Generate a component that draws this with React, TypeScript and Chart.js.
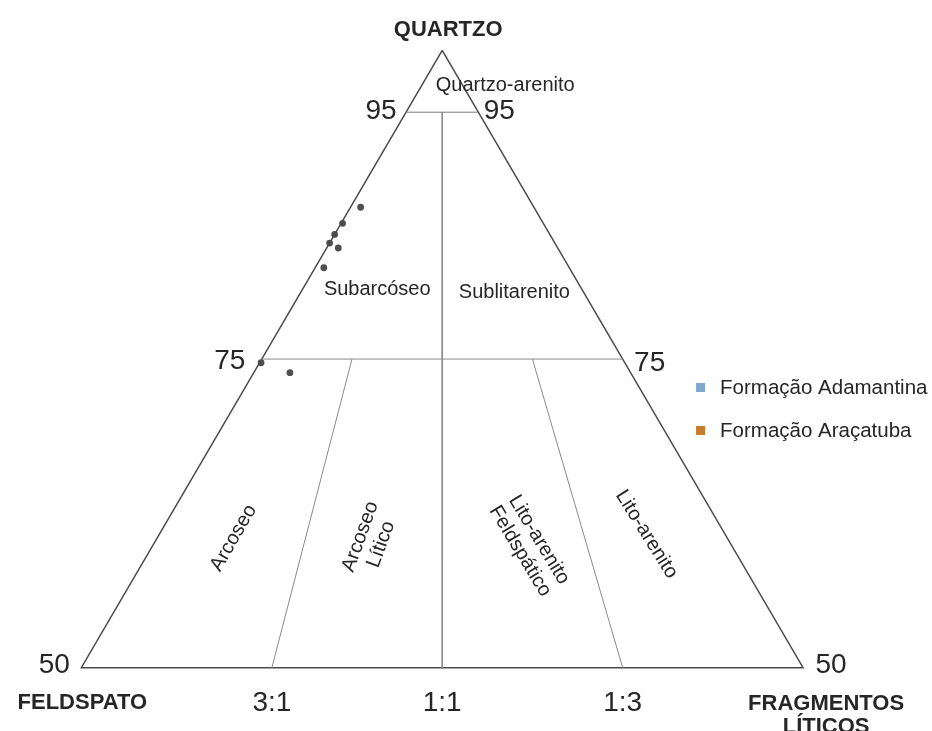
import React, { useEffect, useRef } from "react";
import { Chart, registerables } from "chart.js";

Chart.register(...registerables);

// ---- Data (ternary percentages: Quartzo, Feldspato, Fragmentos Líticos) ----
const quartzo = [87.3, 86.0, 85.1, 84.4, 84.0, 82.4, 74.7, 73.9];
const feldspato = [12.0, 13.9, 14.9, 15.6, 15.2, 17.0, 25.2, 23.6];
const liticos = [0.7, 0.1, 0.0, 0.0, 0.8, 0.6, 0.1, 2.5];

const seriesNames = ["Formação Adamantina", "Formação Araçatuba"];
const seriesColors = ["#7fa7cd", "#c97b2d"];

const vertexLabels = ["QUARTZO", "FELDSPATO", "FRAGMENTOS", "LÍTICOS"];
const quartzTicks = ["95", "75", "50"];
const ratioLabels = ["3:1", "1:1", "1:3"];
const fieldNames = [
  "Quartzo-arenito",
  "Subarcóseo",
  "Sublitarenito",
  "Arcoseo",
  "Arcoseo\nLítico",
  "Lito-arenito\nFeldspático",
  "Lito-arenito",
];

// boundary lines as ternary endpoints [Q, F, L]
const outline = [[100, 0, 0], [50, 50, 0], [50, 0, 50], [100, 0, 0]];
const line95 = [[95, 5, 0], [95, 0, 5]];
const line75 = [[75, 25, 0], [75, 0, 25]];
const ratio11 = [[95, 2.5, 2.5], [50, 25, 25]];
const ratio31 = [[75, 18.75, 6.25], [50, 36.8, 13.2]];
const ratio13 = [[75, 6.25, 18.75], [50, 12.5, 37.5]];

function tern(q: number, f: number, l: number) {
  const s = q + f + l;
  return { x: ((l - f) / s) * 100, y: (q / s) * 100 };
}

const FONT = '"Liberation Sans", Arial, Helvetica, sans-serif';

export default function App() {
  const ref = useRef<HTMLCanvasElement | null>(null);

  useEffect(() => {
    if (!ref.current) return;

    const lineDs = (pts: number[][], color: string, width: number) => ({
      data: pts.map((p) => tern(p[0], p[1], p[2])),
      showLine: true,
      borderColor: color,
      borderWidth: width,
      pointRadius: 0,
      fill: false,
      tension: 0,
    });

    const labelsPlugin = {
      id: "ternLabels",
      beforeDraw(chart: any) {
        const c = chart.ctx;
        c.save();
        c.fillStyle = "#ffffff";
        c.fillRect(0, 0, chart.width, chart.height);
        c.restore();
      },
      afterDraw(chart: any) {
        const c = chart.ctx;
        const xs = chart.scales.x;
        const ys = chart.scales.y;
        const P = (q: number, f: number, l: number) => {
          const t = tern(q, f, l);
          return [xs.getPixelForValue(t.x), ys.getPixelForValue(t.y)];
        };
        const text = (
          s: string,
          px: number,
          py: number,
          font: string,
          rot = 0,
          lh = 22
        ) => {
          c.save();
          c.translate(px, py);
          c.rotate((rot * Math.PI) / 180);
          c.font = font;
          c.fillStyle = "#262626";
          c.textAlign = "center";
          c.textBaseline = "middle";
          const lines = s.split("\n");
          lines.forEach((ln, i) => {
            c.fillText(ln, 0, (i - (lines.length - 1) / 2) * lh);
          });
          c.restore();
        };
        const bold = `bold 22px ${FONT}`;
        const num = `28px ${FONT}`;
        const lab = `20px ${FONT}`;

        const A = P(100, 0, 0);
        const L0 = P(50, 50, 0);
        const R0 = P(50, 0, 50);

        text(vertexLabels[0], A[0] + 6, A[1] - 21, bold);
        text(vertexLabels[1], L0[0] + 1, L0[1] + 35, bold);
        text(vertexLabels[2], R0[0] + 23, R0[1] + 36, bold);
        text(vertexLabels[3], R0[0] + 23, R0[1] + 59, bold);

        const q95l = P(95, 5, 0);
        const q95r = P(95, 0, 5);
        text(quartzTicks[0], q95l[0] - 25, q95l[1] - 1, num);
        text(quartzTicks[0], q95r[0] + 21, q95r[1] - 1, num);
        const q75l = P(75, 25, 0);
        const q75r = P(75, 0, 25);
        text(quartzTicks[1], q75l[0] - 32, q75l[1] + 2, num);
        text(quartzTicks[1], q75r[0] + 27, q75r[1] + 4, num);
        text(quartzTicks[2], L0[0] - 27, L0[1] - 2, num);
        text(quartzTicks[2], R0[0] + 28, R0[1] - 2, num);

        const b31 = P(ratio31[1][0], ratio31[1][1], ratio31[1][2]);
        const b11 = P(ratio11[1][0], ratio11[1][1], ratio11[1][2]);
        const b13 = P(ratio13[1][0], ratio13[1][1], ratio13[1][2]);
        text(ratioLabels[0], b31[0], b31[1] + 36, num);
        text(ratioLabels[1], b11[0], b11[1] + 36, num);
        text(ratioLabels[2], b13[0], b13[1] + 36, num);

        // field names
        text(fieldNames[0], A[0] + 63, A[1] + 35, lab);
        const f1 = P(80.6, 14.2, 5.2);
        text(fieldNames[1], f1[0], f1[1], lab);
        const f2 = P(80.4, 4.8, 14.8);
        text(fieldNames[2], f2[0], f2[1], lab);
        const f3 = P(60.5, 34.2, 5.3);
        text(fieldNames[3], f3[0], f3[1], lab, -60);
        const f4 = P(60.3, 24.8, 14.9);
        text(fieldNames[4], f4[0], f4[1], lab, -70, 22);
        const f5 = P(59.9, 14.0, 26.1);
        text(fieldNames[5], f5[0], f5[1], lab, 59, 22);
        const f6 = P(60.8, 5.45, 33.75);
        text(fieldNames[6], f6[0], f6[1], lab, 58);

        // legend
        const lx = R0[0] - 103;
        const ly = [387, 430];
        const legFont = `20.5px ${FONT}`;
        seriesNames.forEach((name, i) => {
          c.save();
          c.fillStyle = seriesColors[i];
          c.fillRect(lx - 4, ly[i] - 4, 9, 9);
          c.font = legFont;
          c.fillStyle = "#262626";
          c.textAlign = "left";
          c.textBaseline = "middle";
          c.fillText(name, lx + 20, ly[i] + 1);
          c.restore();
        });
      },
    };

    const chart = new Chart(ref.current, {
      type: "scatter",
      data: {
        datasets: [
          lineDs(line95, "#7a7a7a", 1),
          lineDs(line75, "#8a8a8a", 1),
          lineDs(ratio11, "#8a8a8a", 1),
          lineDs(ratio31, "#8a8a8a", 1),
          lineDs(ratio13, "#8a8a8a", 1),
          lineDs(outline, "#4a4a4a", 1.5),
          {
            label: seriesNames[0],
            data: quartzo.map((q, i) => tern(q, feldspato[i], liticos[i])),
            pointRadius: 3.4,
            pointBackgroundColor: "#4f4f4f",
            pointBorderWidth: 0,
            showLine: false,
          },
        ] as any,
      },
      options: {
        animation: false,
        responsive: false,
        events: [],
        layout: { padding: 0 },
        plugins: {
          legend: { display: false },
          tooltip: { enabled: false },
        },
        scales: {
          x: {
            type: "linear",
            min: -442 / 7.28,
            max: (932 - 442) / 7.28,
            display: false,
          },
          y: {
            type: "linear",
            min: 100 - 684 / 12.48,
            max: 100 + 47 / 12.48,
            display: false,
          },
        },
      },
      plugins: [labelsPlugin],
    });

    return () => chart.destroy();
  }, []);

  return (
    <div style={{ position: "absolute", left: 0, top: 0, width: 932, height: 731 }}>
      <canvas ref={ref} width={932} height={731} style={{ display: "block" }} />
    </div>
  );
}
